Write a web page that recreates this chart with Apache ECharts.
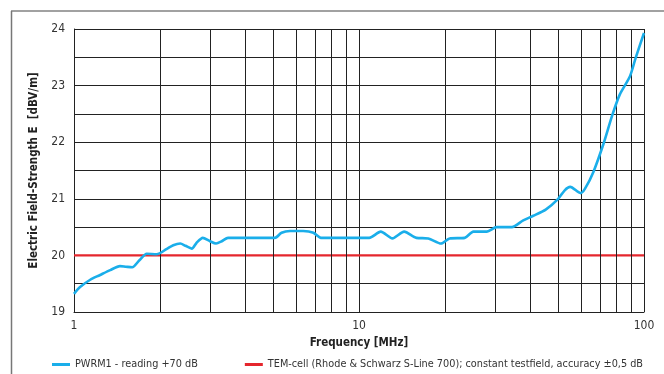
<!DOCTYPE html>
<html><head><meta charset="utf-8">
<script src="https://cdn.jsdelivr.net/npm/echarts@6/dist/echarts.min.js"></script>
<style>html,body{margin:0;padding:0;background:#fff}#c{width:664px;height:374px}</style>
</head><body><div id="c"></div>
<script>
const freqs = [1, 1.05, 1.14, 1.23, 1.34, 1.45, 1.52, 1.6, 1.7, 1.8, 1.95, 2.11, 2.23, 2.36, 2.46, 2.59, 2.69, 2.83, 3.0, 3.15, 3.3, 3.47, 3.62, 5.07, 5.35, 5.73, 6.37, 6.92, 7.35, 10.86, 11.92, 13.1, 14.4, 15.9, 17.5, 19.4, 20.8, 23.5, 25.2, 28.1, 30.4, 34.4, 37.7, 40.9, 45.2, 50.0, 52.7, 55.1, 59.9, 62.1, 66.5, 72.3, 77.2, 82.2, 89.2, 93.5, 100];
const pwrmValues = [19.32, 19.44, 19.57, 19.65, 19.74, 19.81, 19.8, 19.79, 19.92, 20.03, 20.02, 20.11, 20.18, 20.21, 20.17, 20.12, 20.22, 20.31, 20.25, 20.21, 20.25, 20.31, 20.31, 20.31, 20.40, 20.43, 20.43, 20.40, 20.31, 20.31, 20.42, 20.30, 20.42, 20.31, 20.30, 20.21, 20.30, 20.31, 20.42, 20.42, 20.50, 20.50, 20.62, 20.70, 20.81, 21.00, 21.15, 21.21, 21.10, 21.18, 21.48, 21.99, 22.46, 22.84, 23.16, 23.49, 23.93];
const temFreqs = [1, 100];
const temValues = [20, 20];
const minorFreqs = [2, 3, 4, 5, 6, 7, 8, 9, 20, 30, 40, 50, 60, 70, 80, 90];
const seriesNames = ['PWRM1 - reading +70 dB', 'TEM-cell (Rhode & Schwarz S-Line 700); constant testfield, accuracy \u00b10,5 dB'];
const xTitle = 'Frequency [MHz]';
const yTitle = 'Electric Field-Strength E  [dBV/m]';

const FONT = '"Liberation Sans Narrow", "Arial Narrow", "DejaVu Sans Condensed", "Roboto Condensed", Roboto, sans-serif';
const GRID = '#222';

const chart = echarts.init(document.getElementById('c'), null, {renderer: 'canvas'});
chart.setOption({
  animation: false,
  textStyle: {fontFamily: FONT},
  grid: {left: 74, right: 20, top: 29, bottom: 62, containLabel: false},
  legend: {
    left: 52, top: 359, width: 640, itemGap: 47, itemWidth: 18, itemHeight: 3,
    icon: 'rect', padding: 0,
    textStyle: {fontFamily: FONT, fontSize: 10.8, color: '#333'},
    data: seriesNames
  },
  graphic: [
    {type: 'line', shape: {x1: 11, y1: 11, x2: 664, y2: 11}, style: {stroke: '#444', lineWidth: 1.2}, silent: true},
    {type: 'line', shape: {x1: 11.5, y1: 11, x2: 11.5, y2: 374}, style: {stroke: '#777', lineWidth: 1.5}, silent: true}
  ],
  xAxis: {
    type: 'log', logBase: 10, min: 1, max: 100,
    name: xTitle, nameLocation: 'middle', nameGap: 24,
    nameTextStyle: {fontFamily: FONT, fontSize: 11.5, fontWeight: 'bold', color: '#222'},
    axisLine: {show: true, lineStyle: {color: GRID, width: 1}},
    axisTick: {show: false},
    axisLabel: {fontFamily: FONT, fontSize: 12, color: '#333', margin: 8},
    splitLine: {show: true, lineStyle: {color: GRID, width: 1}},
    minorTick: {show: false}, minorSplitLine: {show: false}
  },
  yAxis: {
    type: 'value', min: 19, max: 24, interval: 0.5,
    name: yTitle, nameLocation: 'middle', nameGap: 34,
    nameTextStyle: {fontFamily: FONT, fontSize: 11.5, fontWeight: 'bold', color: '#222'},
    axisLine: {show: true, lineStyle: {color: GRID, width: 1}},
    axisTick: {show: false},
    axisLabel: {fontFamily: FONT, fontSize: 12, color: '#333', margin: 9,
      formatter: v => (Math.abs(v - Math.round(v)) < 1e-6 ? String(Math.round(v)) : '')},
    splitLine: {show: true, lineStyle: {color: GRID, width: 1}}
  },
  series: [
    {
      name: seriesNames[0], type: 'line', symbol: 'none', smooth: 0.25, z: 5,
      color: '#1aaeea',
      lineStyle: {color: '#1aaeea', width: 2.6},
      data: freqs.map((f, i) => [f, pwrmValues[i]]),
      markLine: {
        silent: true, symbol: 'none', animation: false,
        label: {show: false},
        lineStyle: {color: GRID, width: 1, type: 'solid'},
        data: minorFreqs.map(f => ({xAxis: f}))
      }
    },
    {
      name: seriesNames[1], type: 'line', symbol: 'none', z: 4,
      color: '#e5262d',
      lineStyle: {color: '#e5262d', width: 2.4},
      data: temFreqs.map((f, i) => [f, temValues[i]])
    }
  ]
});
</script></body></html>
